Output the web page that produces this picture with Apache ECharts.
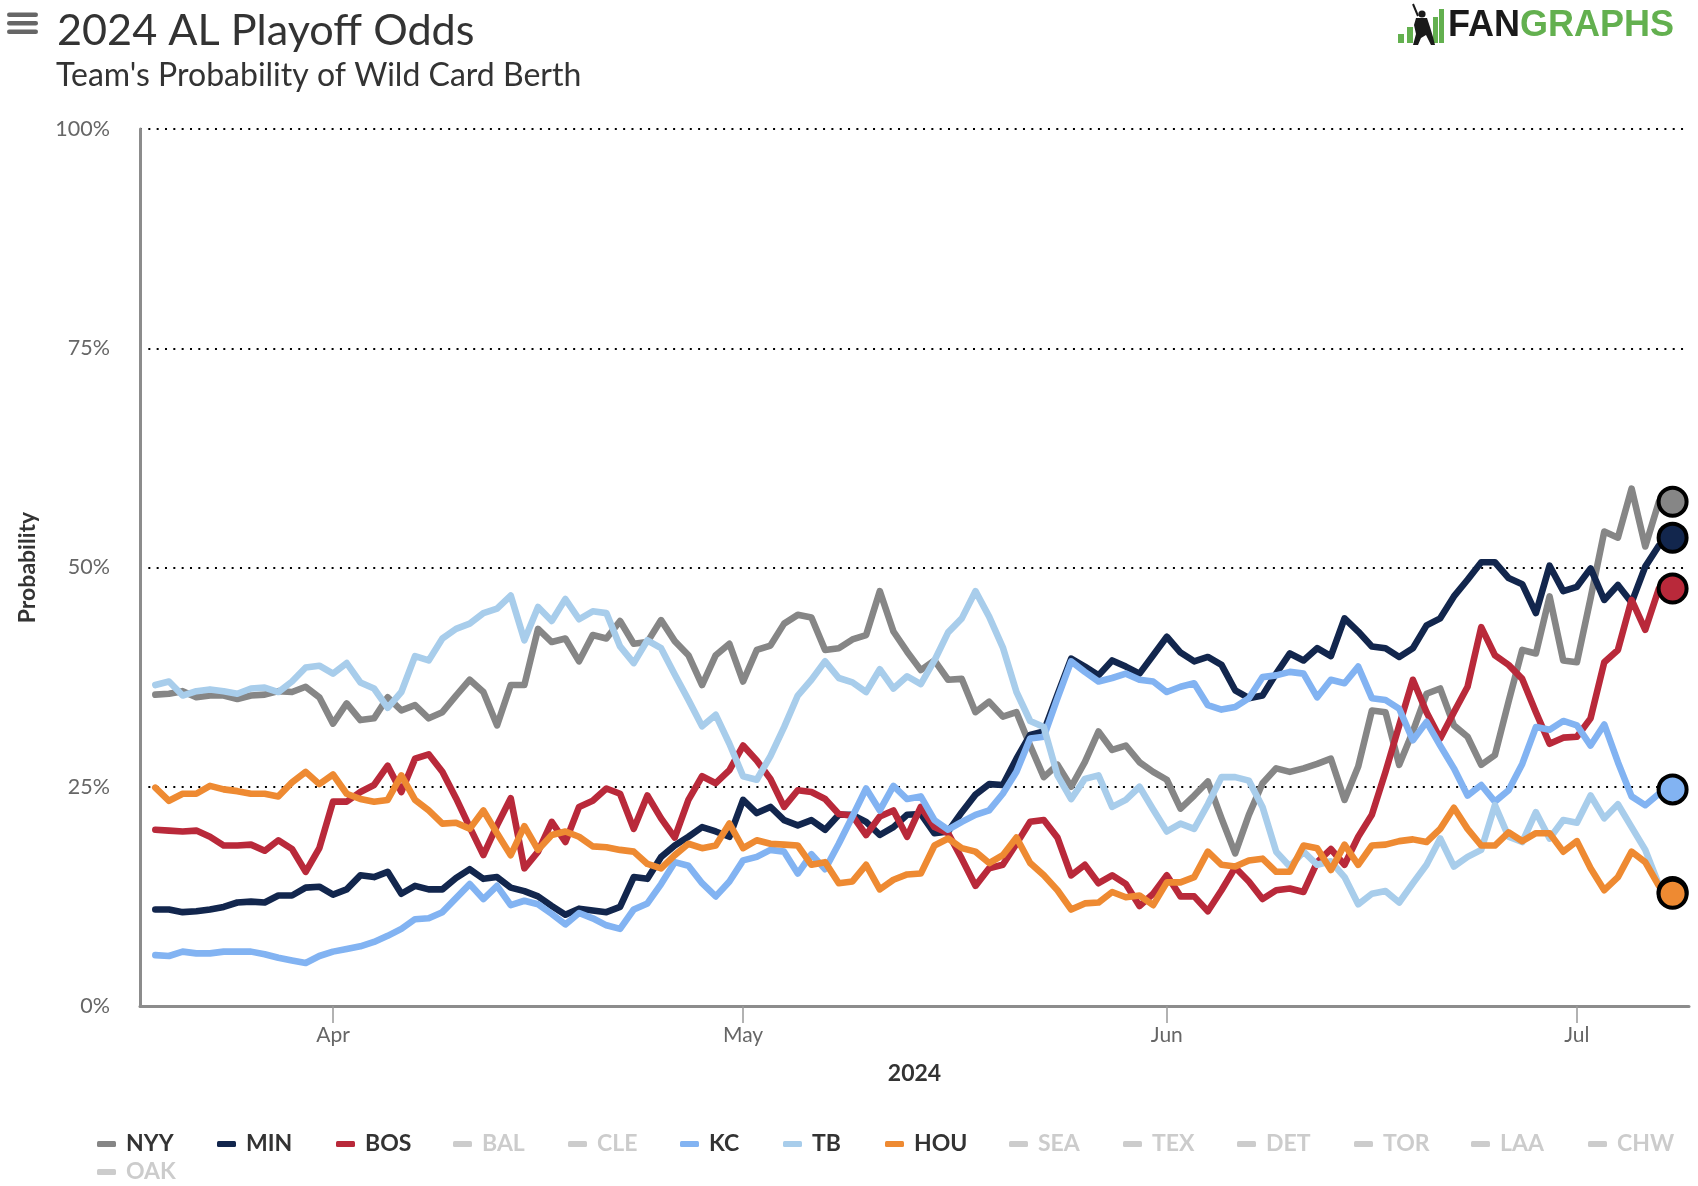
<!DOCTYPE html>
<html>
<head>
<meta charset="utf-8">
<script src="https://cdn.jsdelivr.net/npm/echarts@6/dist/echarts.min.js"></script>
<style>
  html, body { margin: 0; padding: 0; background: #fff; }
  #chart { width: 1698px; height: 1186px; }
</style>
</head>
<body>
<div id="chart"></div>
<script>
// ---------------- data ----------------
const startDate = '2024-03-19';
const monthTickDates = ['2024-04-01', '2024-05-01', '2024-06-01', '2024-07-01'];
const monthTickLabels = ['Apr', 'May', 'Jun', 'Jul'];
const teams = ['NYY', 'MIN', 'BOS', 'BAL', 'CLE', 'KC', 'TB', 'HOU', 'SEA', 'TEX', 'DET', 'TOR', 'LAA', 'CHW', 'OAK'];
const hiddenTeams = ['BAL', 'CLE', 'SEA', 'TEX', 'DET', 'TOR', 'LAA', 'CHW', 'OAK'];

const nyy = [
  35.5, 35.6, 35.9, 35.2, 35.4, 35.4, 35.0, 35.4, 35.5, 35.9, 35.8, 36.4, 35.2, 32.2, 34.5, 32.6, 32.8, 35.2, 33.7, 34.3, 32.8, 33.5, 35.4, 37.2, 35.8, 32.0, 36.6, 36.6,
  43.0, 41.5, 41.9, 39.3, 42.3, 41.9, 43.9, 41.3, 41.5, 44.0, 41.6, 40.0, 36.6, 40.0, 41.3, 37.0, 40.6, 41.1, 43.6, 44.6, 44.3, 40.6, 40.8, 41.8, 42.3, 47.3, 42.7, 40.4,
  38.3, 39.4, 37.2, 37.3, 33.5, 34.7, 33.0, 33.5, 29.7, 26.1, 27.5, 25.0, 27.8, 31.3, 29.2, 29.7, 27.8, 26.7, 25.8, 22.5, 24.0, 25.6, 21.4, 17.4, 21.8, 25.4, 27.1, 26.7,
  27.1, 27.6, 28.2, 23.5, 27.3, 33.7, 33.5, 27.5, 31.3, 35.6, 36.2, 32.0, 30.7, 27.5, 28.6, 34.7, 40.6, 40.2, 46.7, 39.4, 39.2, 46.5, 54.1, 53.4, 59.0, 52.4, 57.5, 57.5
];
const min = [
  11.0, 11.0, 10.7, 10.8, 11.0, 11.3, 11.8, 11.9, 11.8, 12.6, 12.6, 13.5, 13.6, 12.7, 13.3, 14.9, 14.7, 15.3, 12.8, 13.7, 13.3, 13.3, 14.6, 15.6, 14.5, 14.7, 13.5, 13.1,
  12.5, 11.4, 10.4, 11.1, 10.9, 10.7, 11.3, 14.7, 14.5, 17.0, 18.3, 19.3, 20.4, 19.9, 19.3, 23.5, 22.0, 22.7, 21.2, 20.6, 21.2, 20.1, 21.8, 21.8, 21.0, 19.5, 20.4, 21.8,
  21.9, 19.7, 19.9, 22.1, 24.1, 25.3, 25.2, 28.2, 30.9, 31.3, 35.5, 39.6, 38.7, 37.7, 39.4, 38.7, 37.9, 40.0, 42.1, 40.3, 39.3, 39.8, 38.9, 36.0, 35.1, 35.4, 37.9, 40.2,
  39.4, 40.8, 39.9, 44.2, 42.7, 41.0, 40.8, 39.8, 40.8, 43.4, 44.2, 46.7, 48.6, 50.6, 50.6, 48.8, 48.1, 44.8, 50.2, 47.3, 47.8, 49.9, 46.3, 48.0, 46.0, 50.1, 52.5, 53.4
];
const bos = [
  20.1, 20.0, 19.9, 20.0, 19.3, 18.3, 18.3, 18.4, 17.7, 18.9, 17.9, 15.3, 18.0, 23.3, 23.3, 24.4, 25.2, 27.4, 24.4, 28.2, 28.7, 26.7, 23.7, 20.4, 17.2, 20.6, 23.7, 15.7,
  17.6, 21.0, 18.7, 22.7, 23.4, 24.8, 24.2, 20.2, 24.0, 21.4, 19.2, 23.5, 26.2, 25.4, 26.9, 29.7, 28.0, 25.9, 22.7, 24.6, 24.4, 23.6, 21.9, 21.7, 19.5, 21.6, 22.3, 19.3,
  22.7, 20.4, 19.7, 16.8, 13.7, 15.7, 16.1, 18.5, 21.0, 21.2, 19.2, 14.9, 16.1, 14.0, 14.9, 13.9, 11.4, 12.8, 14.9, 12.5, 12.5, 10.8, 13.2, 15.8, 14.2, 12.2, 13.2, 13.4,
  13.0, 16.4, 17.9, 16.1, 19.3, 21.8, 26.7, 32.0, 37.2, 33.5, 30.5, 33.5, 36.4, 43.2, 40.0, 38.9, 37.3, 33.5, 29.9, 30.6, 30.7, 32.8, 39.2, 40.6, 46.3, 42.9, 47.6, 47.6
];
const kc = [
  5.8, 5.7, 6.2, 6.0, 6.0, 6.2, 6.2, 6.2, 5.9, 5.5, 5.2, 4.9, 5.7, 6.2, 6.5, 6.8, 7.3, 8.0, 8.8, 9.9, 10.0, 10.7, 12.3, 13.9, 12.2, 13.7, 11.5, 12.0,
  11.6, 10.5, 9.3, 10.6, 10.0, 9.2, 8.8, 11.0, 11.7, 13.9, 16.4, 16.0, 14.0, 12.5, 14.2, 16.6, 17.0, 17.8, 17.6, 15.1, 17.3, 15.6, 18.5, 21.6, 24.8, 22.3, 25.1, 23.6,
  23.9, 21.2, 20.1, 21.0, 21.8, 22.3, 24.2, 26.7, 30.5, 30.7, 35.1, 39.3, 38.1, 37.0, 37.4, 37.9, 37.2, 37.0, 35.8, 36.4, 36.8, 34.3, 33.8, 34.1, 35.1, 37.5, 37.7, 38.1,
  37.9, 35.2, 37.2, 36.8, 38.7, 35.1, 34.9, 33.9, 30.3, 32.4, 29.7, 27.1, 24.0, 25.2, 23.3, 24.6, 27.6, 31.8, 31.5, 32.5, 32.0, 29.7, 32.1, 27.8, 23.9, 22.9, 24.2, 24.7
];
const tb = [
  36.6, 37.0, 35.4, 35.9, 36.1, 35.9, 35.6, 36.2, 36.3, 35.8, 37.0, 38.6, 38.8, 37.9, 39.1, 36.9, 36.2, 34.0, 35.8, 39.9, 39.4, 41.9, 43.0, 43.6, 44.8, 45.3, 46.8, 41.7,
  45.5, 43.9, 46.4, 44.1, 45.0, 44.8, 41.0, 39.1, 41.7, 40.8, 37.8, 34.9, 31.9, 33.2, 29.9, 26.2, 25.8, 28.5, 31.8, 35.4, 37.2, 39.3, 37.4, 36.9, 35.8, 38.4, 36.2, 37.6,
  36.7, 39.4, 42.6, 44.2, 47.3, 44.4, 40.9, 35.8, 32.5, 31.8, 26.3, 23.6, 25.9, 26.3, 22.7, 23.5, 25.0, 22.4, 19.9, 20.8, 20.2, 23.0, 26.1, 26.1, 25.7, 22.7, 17.6, 15.9,
  17.6, 16.1, 16.5, 14.7, 11.6, 12.8, 13.1, 11.8, 14.0, 16.1, 19.1, 15.9, 17.0, 17.8, 22.9, 19.3, 18.7, 22.1, 19.1, 21.2, 20.9, 24.0, 21.4, 23.0, 20.4, 17.8, 13.8, 13.0
];
const hou = [
  24.9, 23.4, 24.2, 24.2, 25.1, 24.7, 24.5, 24.2, 24.2, 23.9, 25.5, 26.7, 25.3, 26.4, 24.2, 23.6, 23.3, 23.5, 26.3, 23.5, 22.3, 20.8, 20.9, 20.2, 22.3, 19.7, 17.2, 20.5,
  17.8, 19.5, 19.9, 19.3, 18.2, 18.1, 17.8, 17.6, 16.2, 15.7, 17.2, 18.5, 18.0, 18.3, 20.8, 18.0, 18.9, 18.5, 18.4, 18.3, 16.1, 16.4, 14.0, 14.2, 16.1, 13.3, 14.4, 15.0,
  15.1, 18.3, 19.1, 18.0, 17.6, 16.3, 17.2, 19.2, 16.3, 14.9, 13.2, 11.0, 11.7, 11.8, 13.0, 12.4, 12.6, 11.5, 14.1, 14.1, 14.7, 17.6, 16.1, 15.9, 16.6, 16.8, 15.3, 15.3,
  18.3, 18.0, 15.5, 18.4, 16.1, 18.3, 18.4, 18.8, 19.0, 18.7, 20.2, 22.6, 20.2, 18.3, 18.3, 19.8, 18.8, 19.7, 19.7, 17.6, 18.8, 15.7, 13.2, 14.7, 17.6, 16.4, 13.7, 12.8
];

const teamValues = { NYY: nyy, MIN: min, BOS: bos, KC: kc, TB: tb, HOU: hou };
const teamColors = {
  NYY: '#868686', MIN: '#12264d', BOS: '#b9293a', KC: '#82b3f2', TB: '#a8cdeb', HOU: '#ee8a32'
};

// ---------------- helpers ----------------
const DAY = 86400000;
const dayIndex = (d) => Math.round((Date.parse(d) - Date.parse(startDate)) / DAY);
const tickDays = monthTickDates.map(dayIndex);
const tickLabelByDay = {};
tickDays.forEach((d, i) => { tickLabelByDay[d] = monthTickLabels[i]; });

const FONT = 'Lato, "Noto Sans", sans-serif';

function buildSeries(name) {
  const vals = teamValues[name];
  if (!vals) {
    return { name, type: 'line', data: [], itemStyle: { color: '#cccccc' }, lineStyle: { color: '#cccccc' } };
  }
  const color = teamColors[name];
  const data = vals.map((v, i) => {
    if (i === vals.length - 1) {
      return {
        value: [i, v], symbol: 'circle', symbolSize: 28,
        itemStyle: { color, borderColor: '#000', borderWidth: 4 }
      };
    }
    return [i, v];
  });
  return {
    name, type: 'line', data,
    symbol: 'none', showSymbol: true, clip: false,
    lineStyle: { width: 6.6, color, cap: 'round', join: 'round' },
    itemStyle: { color },
    emphasis: { disabled: true },
    silent: true, animation: false
  };
}

// legend item layout (px), one legend per item to match reference spacing
const legendLeft = [97, 217, 336, 453, 568, 680, 783, 885, 1009, 1123, 1237, 1354, 1471, 1588, 97];
const legendTop = [1131, 1131, 1131, 1131, 1131, 1131, 1131, 1131, 1131, 1131, 1131, 1131, 1131, 1131, 1159];

const legends = teams.map((name, i) => {
  const selected = {};
  selected[name] = hiddenTeams.indexOf(name) < 0;
  return {
    data: [name], left: legendLeft[i], top: legendTop[i], padding: 0,
    icon: 'roundRect', itemWidth: 19, itemHeight: 6,
    inactiveColor: '#cccccc', selected,
    textStyle: { fontFamily: FONT, fontWeight: 'bold', fontSize: 23, color: '#333333', lineHeight: 26, padding: [0, 0, 0, 5] }
  };
});

const chart = echarts.init(document.getElementById('chart'), null, { renderer: 'canvas' });

const option = {
  backgroundColor: '#ffffff',
  animation: false,
  grid: { left: 140, right: 9, top: 129, bottom: 180, containLabel: false, outerBoundsMode: 'none' },
  xAxis: {
    type: 'value', min: -1.12, max: 112.2,
    name: '2024', nameLocation: 'middle', nameGap: 56,
    nameTextStyle: { fontFamily: FONT, fontWeight: 'bold', fontSize: 23, color: '#333333' },
    axisLine: { show: true, onZero: false, lineStyle: { color: '#8c8c8c', width: 3 } },
    axisTick: { show: true, customValues: tickDays, length: 17, lineStyle: { color: '#999999', width: 1.5 } },
    axisLabel: {
      show: true, customValues: tickDays, margin: 19,
      formatter: (v) => tickLabelByDay[Math.round(v)] || '',
      fontFamily: FONT, fontSize: 21, color: '#666666'
    },
    splitLine: { show: false }
  },
  yAxis: {
    type: 'value', min: 0, max: 100, interval: 25,
    name: 'Probability', nameLocation: 'middle', nameGap: 101, nameRotate: 90,
    nameTextStyle: { fontFamily: FONT, fontWeight: 'bold', fontSize: 23, color: '#333333' },
    axisLine: { show: true, onZero: false, lineStyle: { color: '#8c8c8c', width: 3 } },
    axisTick: { show: false },
    axisLabel: { margin: 30, formatter: '{value}%', fontFamily: FONT, fontSize: 21.5, color: '#666666' },
    splitLine: { show: true, showMinLine: false, lineStyle: { color: '#000000', width: 2, type: [2, 6.33] } }
  },
  legend: legends,
  graphic: [
    // menu icon
    { type: 'rect', shape: { x: 7, y: 12.5, width: 31, height: 4.5, r: 2.2 }, style: { fill: '#666666' } },
    { type: 'rect', shape: { x: 7, y: 21, width: 31, height: 4.5, r: 2.2 }, style: { fill: '#666666' } },
    { type: 'rect', shape: { x: 7, y: 29.5, width: 31, height: 4.5, r: 2.2 }, style: { fill: '#666666' } },
    // titles
    { type: 'text', style: { x: 57, y: 31, text: '2024 AL Playoff Odds', font: '43.2px ' + FONT, fill: '#333333', verticalAlign: 'middle' } },
    { type: 'text', style: { x: 56, y: 76, text: "Team's Probability of Wild Card Berth", font: '32px ' + FONT, fill: '#333333', verticalAlign: 'middle' } },
    // logo bars
    { type: 'rect', shape: { x: 1398, y: 34, width: 6, height: 9 }, style: { fill: '#63b04f' } },
    { type: 'rect', shape: { x: 1407, y: 27, width: 6, height: 16 }, style: { fill: '#63b04f' } },
    { type: 'rect', shape: { x: 1433, y: 17, width: 5, height: 26 }, style: { fill: '#63b04f' } },
    { type: 'rect', shape: { x: 1439, y: 9, width: 5, height: 34 }, style: { fill: '#63b04f' } },
    // batter silhouette
    { type: 'line', shape: { x1: 1413, y1: 4, x2: 1418, y2: 16 }, style: { stroke: '#1a1a1a', lineWidth: 2 } },
    { type: 'circle', shape: { cx: 1422, cy: 14, r: 3.6 }, style: { fill: '#1a1a1a' } },
    { type: 'polygon', shape: { points: [[1416, 18], [1427, 18], [1430, 27], [1433, 37], [1435, 45], [1431, 45], [1426, 35], [1421, 38], [1418, 45], [1413, 45], [1416, 34], [1414, 25]] }, style: { fill: '#1a1a1a' } },
    // logo text
    {
      type: 'text',
      style: {
        x: 1448, y: 26, verticalAlign: 'middle',
        text: '{a|FAN}{b|GRAPHS}',
        rich: {
          a: { fontFamily: '"Liberation Sans", Arial, sans-serif', fontWeight: 'bold', fontSize: 36, fill: '#1a1a1a' },
          b: { fontFamily: '"Liberation Sans", Arial, sans-serif', fontWeight: 'bold', fontSize: 36, fill: '#63b04f' }
        }
      }
    }
  ],
  series: teams.map(buildSeries)
};

chart.setOption(option);
</script>
</body>
</html>
